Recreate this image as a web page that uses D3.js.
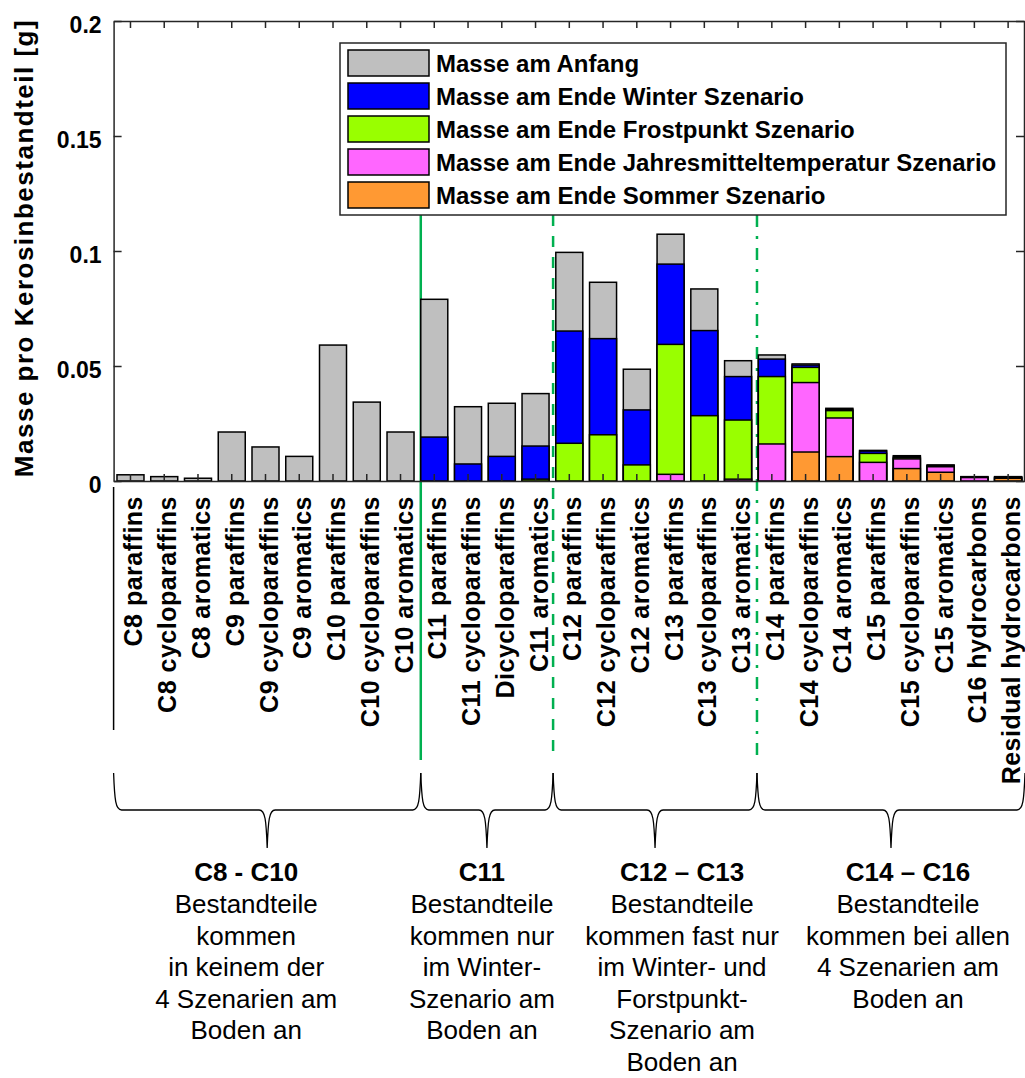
<!DOCTYPE html>
<html>
<head>
<meta charset="UTF-8">
<title>Masse pro Kerosinbestandteil</title>
<script src="https://d3js.org/d3.v7.min.js"></script>
<style>
  body {margin: 0; background: #fff;}
  svg text {font-family: Arial, "Liberation Sans", sans-serif; fill: #000;}
  .axis path, .axis line {stroke: #262626; stroke-width: 1.5;}
  .axis .tick text {font-weight: bold;}
</style>
</head>
<body>
<div id="chart"></div>
<script>
// categories on the x axis
var categories = ["C8 paraffins", "C8 cycloparaffins", "C8 aromatics",
  "C9 paraffins", "C9 cycloparaffins", "C9 aromatics",
  "C10 paraffins", "C10 cycloparaffins", "C10 aromatics",
  "C11 paraffins", "C11 cycloparaffins", "Dicycloparaffins", "C11 aromatics",
  "C12 paraffins", "C12 cycloparaffins", "C12 aromatics",
  "C13 paraffins", "C13 cycloparaffins", "C13 aromatics",
  "C14 paraffins", "C14 cycloparaffins", "C14 aromatics",
  "C15 paraffins", "C15 cycloparaffins", "C15 aromatics",
  "C16 hydrocarbons", "Residual hydrocarbons"];

// mass per component [g]
var anfang = [0.0027, 0.0019, 0.0012, 0.0213, 0.0148, 0.0107, 0.0591, 0.0343, 0.0213,
  0.0790, 0.0323, 0.0338, 0.0380, 0.0994, 0.0864, 0.0486, 0.1073, 0.0835, 0.0523,
  0.0548, 0.0509, 0.0316, 0.0133, 0.0110, 0.0070, 0.0019, 0.0019];
var winter = [0, 0, 0, 0, 0, 0, 0, 0, 0,
  0.0191, 0.0074, 0.0107, 0.0152, 0.0652, 0.0619, 0.0309, 0.0943, 0.0654, 0.0454,
  0.0530, 0.0504, 0.0312, 0.0130, 0.0107, 0.0067, 0.0017, 0.0017];
var frost = [0, 0, 0, 0, 0, 0, 0, 0, 0,
  0, 0, 0, 0.0008, 0.0164, 0.0201, 0.0070, 0.0594, 0.0284, 0.0265,
  0.0454, 0.0494, 0.0306, 0.0120, 0.0101, 0.0065, 0.0016, 0.0016];
var jahresmittel = [0, 0, 0, 0, 0, 0, 0, 0, 0,
  0, 0, 0, 0, 0, 0, 0, 0.0029, 0, 0.0008,
  0.0161, 0.0428, 0.0274, 0.0081, 0.0096, 0.0062, 0.0015, 0.0013];
var sommer = [0, 0, 0, 0, 0, 0, 0, 0, 0,
  0, 0, 0, 0, 0, 0, 0, 0, 0, 0,
  0, 0.0126, 0.0106, 0, 0.0054, 0.0038, 0, 0.0012];

var seriesNames = ["Masse am Anfang", "Masse am Ende Winter Szenario",
  "Masse am Ende Frostpunkt Szenario", "Masse am Ende Jahresmitteltemperatur Szenario",
  "Masse am Ende Sommer Szenario"];
var seriesColors = ["#bfbfbf", "#0000ff", "#99ff00", "#ff66ff", "#ff9933"];
var yTicks = [0, 0.05, 0.1, 0.15, 0.2];

// groups below the axis (bounds in category index units)
var groupBounds = [-0.5, 8.6, 12.52, 18.56, 26.5];
var dividerDash = ["none", "11,10", "12,9,3,9"];
var groupTitles = ["C8 - C10", "C11", "C12 \u2013 C13", "C14 \u2013 C16"];
var groupLines = [
  ["Bestandteile", "kommen", "in keinem der", "4 Szenarien am", "Boden an"],
  ["Bestandteile", "kommen nur", "im Winter-", "Szenario am", "Boden an"],
  ["Bestandteile", "kommen fast nur", "im Winter- und", "Forstpunkt-", "Szenario am", "Boden an"],
  ["Bestandteile", "kommen bei allen", "4 Szenarien am", "Boden an"]
];
var groupTextShift = [-21, -5, 27, 17];

var W = 1025, H = 1078;
var margin = {top: 21, left: 113.6, right: 0, bottom: 597};

var svg = d3.select("#chart").append("svg")
    .attr("width", W)
    .attr("height", H);

var x = d3.scaleBand()
    .domain(categories)
    .range([margin.left, 1025])
    .paddingInner(0.2)
    .paddingOuter(0.1);

var y = d3.scaleLinear()
    .domain([0, 0.2])
    .range([481, margin.top]);

var step = x.step();
function xIdx(i) { return x(categories[0]) + x.bandwidth() / 2 + i * step; }

// green divider lines (start under the legend box)
svg.selectAll(".divider")
    .data(groupBounds.slice(1, 4))
    .enter().append("line")
    .attr("class", "divider")
    .attr("x1", function(d) { return xIdx(d); })
    .attr("x2", function(d) { return xIdx(d); })
    .attr("y1", 215)
    .attr("y2", 760)
    .attr("stroke", "#00b050")
    .attr("stroke-width", 2.5)
    .attr("stroke-dasharray", function(d, i) { return dividerDash[i]; });

// bars: each series drawn from zero, largest first
var allSeries = [anfang, winter, frost, jahresmittel, sommer];
allSeries.forEach(function(vals, s) {
  svg.append("g").selectAll("rect")
      .data(vals.map(function(v, i) { return {c: categories[i], v: v}; })
                .filter(function(d) { return d.v > 0; }))
      .enter().append("rect")
      .attr("x", function(d) { return x(d.c); })
      .attr("width", x.bandwidth())
      .attr("y", function(d) { return y(d.v); })
      .attr("height", function(d) { return y(0) - y(d.v); })
      .attr("fill", seriesColors[s])
      .attr("stroke", "#000")
      .attr("stroke-width", 1.5);
});

// axes
var xAxis = svg.append("g")
    .attr("class", "axis")
    .attr("transform", "translate(0," + y(0) + ")")
    .call(d3.axisBottom(x).tickSize(-7).tickSizeOuter(0));
xAxis.selectAll(".tick text")
    .attr("font-size", 25)
    .attr("letter-spacing", 0.5)
    .attr("text-anchor", "end")
    .attr("dy", null)
    .attr("y", null)
    .attr("transform", "translate(12,15) rotate(-90)");

svg.append("g")
    .attr("class", "axis")
    .attr("transform", "translate(0," + y(0.2) + ")")
    .call(d3.axisTop(x).tickSize(-7).tickSizeOuter(0).tickFormat(""));

var yAxis = svg.append("g")
    .attr("class", "axis")
    .attr("transform", "translate(" + margin.left + ",0)")
    .call(d3.axisLeft(y).tickValues(yTicks).tickSize(-8).tickSizeOuter(0)
      .tickFormat(function(d) { return d === 0 ? "0" : String(d); }));
yAxis.selectAll(".tick text")
    .attr("font-size", 23)
    .attr("x", -12)
    .attr("dy", "0.5em");

svg.append("g")
    .attr("class", "axis")
    .attr("transform", "translate(1024,0)")
    .call(d3.axisRight(y).tickValues(yTicks).tickSize(-8).tickSizeOuter(0).tickFormat(""));

// y label
svg.append("text")
    .attr("transform", "translate(33,248) rotate(-90)")
    .attr("text-anchor", "middle")
    .attr("font-size", 26)
    .attr("font-weight", "bold")
    .attr("letter-spacing", 1.5)
    .text("Masse pro Kerosinbestandteil [g]");

// left line under the axis
svg.append("line")
    .attr("x1", margin.left).attr("x2", margin.left)
    .attr("y1", 487).attr("y2", 730)
    .attr("stroke", "#000").attr("stroke-width", 1.5);

// legend
var legend = svg.append("g");
legend.append("rect")
    .attr("x", 340).attr("y", 43)
    .attr("width", 666).attr("height", 172)
    .attr("fill", "#fff")
    .attr("stroke", "#262626")
    .attr("stroke-width", 1.5);
var items = legend.selectAll(".item")
    .data(seriesNames)
    .enter().append("g")
    .attr("transform", function(d, i) { return "translate(0," + (50 + i * 33) + ")"; });
items.append("rect")
    .attr("x", 348).attr("width", 81).attr("height", 26)
    .attr("fill", function(d, i) { return seriesColors[i]; })
    .attr("stroke", "#000").attr("stroke-width", 1.5);
items.append("text")
    .attr("x", 436).attr("y", 13).attr("dy", "0.36em")
    .attr("font-size", 24).attr("font-weight", "bold")
    .text(function(d) { return d; });

// curly braces
function bracePath(x0, x1) {
  var yTop = 773, yMid = 810, yTip = 848, xc = (x0 + x1) / 2;
  return "M" + x0 + "," + yTop +
    "C" + (x0 + 1) + "," + (yMid - 10) + " " + (x0 + 2) + "," + yMid + " " + (x0 + 8) + "," + yMid +
    "L" + (xc - 8) + "," + yMid +
    "C" + (xc - 2) + "," + yMid + " " + (xc - 1) + "," + (yMid + 10) + " " + xc + "," + yTip +
    "C" + (xc + 1) + "," + (yMid + 10) + " " + (xc + 2) + "," + yMid + " " + (xc + 8) + "," + yMid +
    "L" + (x1 - 8) + "," + yMid +
    "C" + (x1 - 2) + "," + yMid + " " + (x1 - 1) + "," + (yMid - 10) + " " + x1 + "," + yTop;
}
var groups = svg.selectAll(".group")
    .data(groupTitles)
    .enter().append("g");
groups.append("path")
    .attr("d", function(d, i) {
      var x0 = i === 0 ? margin.left : xIdx(groupBounds[i]);
      return bracePath(x0, xIdx(groupBounds[i + 1]));
    })
    .attr("fill", "none")
    .attr("stroke", "#000")
    .attr("stroke-width", 1.3);
groups.each(function(d, i) {
  var x0 = i === 0 ? margin.left : xIdx(groupBounds[i]);
  var cx = (x0 + xIdx(groupBounds[i + 1])) / 2 + groupTextShift[i];
  var g = d3.select(this);
  g.append("text")
      .attr("x", cx).attr("y", 872).attr("dy", "0.36em")
      .attr("text-anchor", "middle")
      .attr("font-size", 26).attr("font-weight", "bold")
      .text(d);
  g.selectAll(".line")
      .data(groupLines[i])
      .enter().append("text")
      .attr("x", cx)
      .attr("y", function(t, k) { return 904 + k * 31.5; })
      .attr("dy", "0.36em")
      .attr("text-anchor", "middle")
      .attr("font-size", 26)
      .text(function(t) { return t; });
});
</script>
</body>
</html>
